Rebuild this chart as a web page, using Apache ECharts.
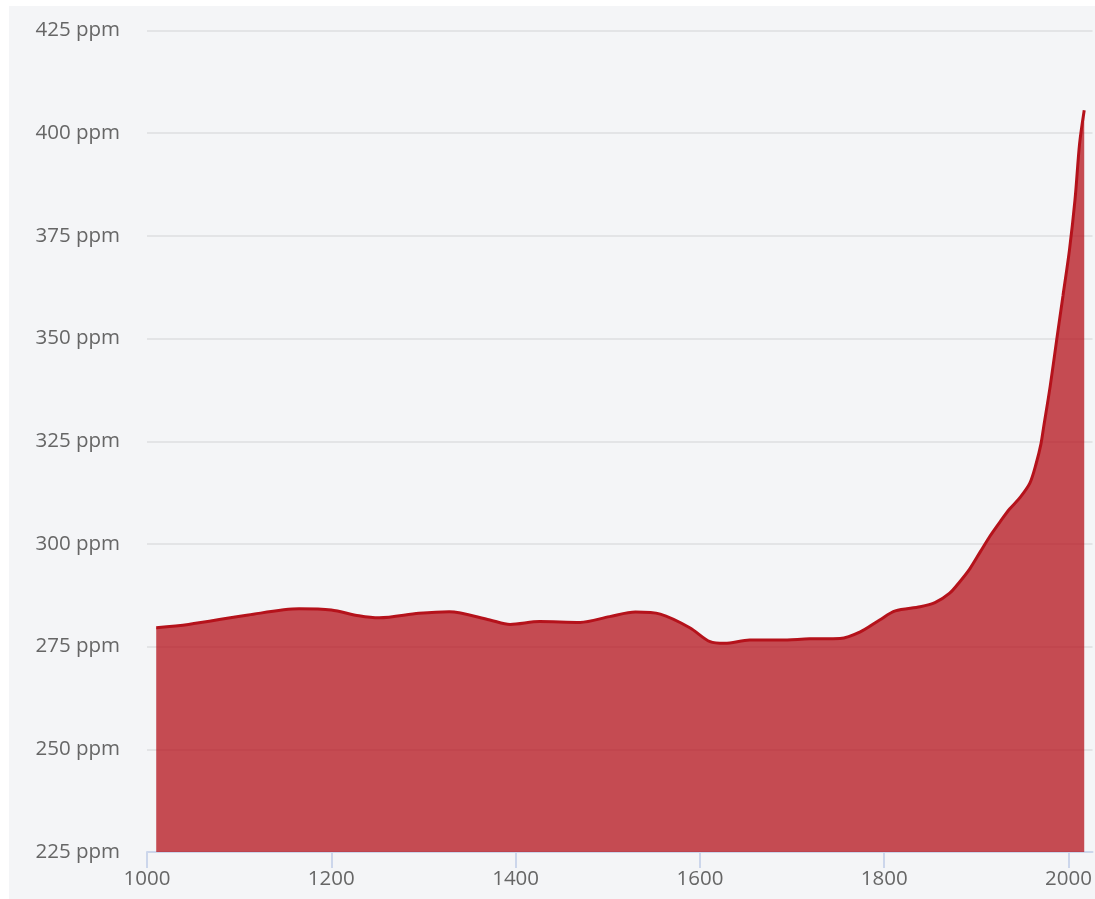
<!DOCTYPE html>
<html>
<head>
<meta charset="utf-8">
<script src="https://cdn.jsdelivr.net/npm/echarts@6/dist/echarts.min.js"></script>
<style>
  html, body { margin: 0; padding: 0; background: #ffffff; }
  #chart { position: absolute; left: 9px; top: 6px; width: 1086px; height: 893px; }
</style>
</head>
<body>
<div id="chart"></div>
<script>
// Years (x) and CO2 concentration (ppm)
const years = [1010, 1045, 1110, 1165, 1200, 1230, 1252, 1295, 1328, 1372, 1394, 1426, 1470, 1502, 1530, 1557, 1589, 1611, 1627, 1654, 1687, 1719, 1752, 1774, 1795, 1812, 1839, 1855, 1871, 1882, 1893, 1904, 1915, 1926, 1936, 1947, 1958, 1965, 1970, 1973, 1980, 1987, 1994, 2001, 2007, 2012, 2017];
const ppm = [279.6, 280.4, 282.7, 284.2, 283.9, 282.5, 282.0, 283.1, 283.5, 281.5, 280.4, 281.1, 280.9, 282.3, 283.4, 282.9, 279.6, 276.2, 275.8, 276.6, 276.6, 276.9, 277.0, 278.6, 281.5, 283.7, 284.7, 285.7, 288.0, 290.8, 294.0, 298.0, 302.0, 305.5, 308.5, 311.2, 314.8, 319.7, 324.3, 328.5, 338.3, 349.5, 360.5, 371.6, 383.8, 397.5, 405.6];
const xTicks = [1000, 1200, 1400, 1600, 1800, 2000];
const yTicks = [225, 250, 275, 300, 325, 350, 375, 400, 425];

const chart = echarts.init(document.getElementById('chart'), null, { renderer: 'canvas' });
const labelFont = { color: '#666666', fontSize: 20.5, fontFamily: '"Open Sans", "Noto Sans", sans-serif' };

chart.setOption({
  backgroundColor: '#f4f5f7',
  animation: false,
  grid: { left: 138, right: 1, top: 24.5, bottom: 47, containLabel: false },
  xAxis: {
    type: 'value',
    min: 1000,
    max: 2026,
    axisLine: { show: true, lineStyle: { color: '#ccd6eb', width: 2 } },
    axisTick: { show: true, length: 16, lineStyle: { color: '#ccd6eb', width: 2 }, customValues: xTicks },
    axisLabel: Object.assign({ margin: 17, customValues: xTicks, formatter: v => String(v) }, labelFont),
    splitLine: { show: false }
  },
  yAxis: {
    type: 'value',
    min: yTicks[0],
    max: yTicks[yTicks.length - 1],
    interval: 25,
    axisLine: { show: false },
    axisTick: { show: false },
    axisLabel: Object.assign({ margin: 27, verticalAlign: 'middle', lineHeight: 22, padding: [0, 0, 6, 0], formatter: v => v + ' ppm' }, labelFont),
    splitLine: { show: true, lineStyle: { color: '#e3e4e6', width: 2 } }
  },
  series: [{
    type: 'line',
    data: years.map((y, i) => [y, ppm[i]]),
    smooth: 0.3,
    showSymbol: false,
    symbol: 'none',
    lineStyle: { color: '#b5121b', width: 3 },
    areaStyle: { color: '#b5121b', opacity: 0.75 }
  }]
});
</script>
</body>
</html>
